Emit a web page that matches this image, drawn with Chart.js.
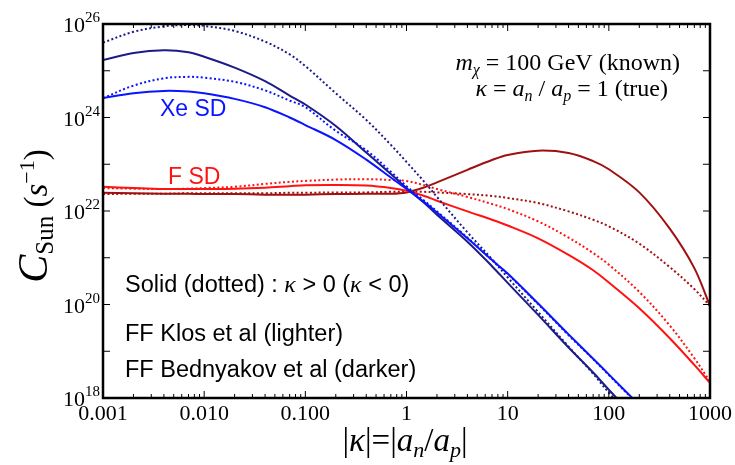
<!DOCTYPE html>
<html>
<head>
<meta charset="utf-8">
<script src="https://cdn.jsdelivr.net/npm/chart.js@4/dist/chart.umd.min.js"></script>
<style>
  body { margin: 0; background: #fff; }
  #wrap { width: 735px; height: 465px; }
</style>
</head>
<body>
<div id="wrap"><canvas id="c" width="735" height="465"></canvas></div>
<script>
// |kappa| sampling points
const kappa = [0.001, 0.002, 0.004, 0.007, 0.01, 0.02, 0.04, 0.07, 0.1, 0.2, 0.4, 0.7, 1, 1.5, 2, 4, 7, 10, 20, 40, 70, 100, 200, 400, 700, 1000];

// Xe SD, Klos FF (lighter)
const xeKlosPos = [2.6e24, 3.3e24, 3.7e24, 3.6e24, 3.3e24, 2.5e24, 1.66e24, 1.0e24, 6.9e23, 3.3e23, 1.26e23, 5.2e22, 2.95e22, 1.55e22, 9.3e21, 2.6e21, 8.9e20, 4.6e20, 1.05e20, 2.3e19, 6.9e18, 3.2e18, 7.1e17, 1.6e17, 4.7e16, 2.2e16];
const xeKlosNeg = [2.6e24, 4.8e24, 6.9e24, 7.4e24, 7.1e24, 5.8e24, 3.8e24, 2.3e24, 1.66e24, 5.2e23, 2.0e23, 6.9e22, 3.4e22, 1.66e22, 9.8e21, 2.7e21, 8.9e20, 4.5e20, 1.02e20, 2.2e19, 6.8e18, 3.1e18, 6.9e17, 1.55e17, 4.6e16, 2.2e16];
// Xe SD, Bednyakov FF (darker)
const xeBedPos = [1.7e25, 2.4e25, 2.75e25, 2.5e25, 2.0e25, 1.17e25, 6.0e24, 2.95e24, 1.9e24, 6.6e23, 1.78e23, 6.2e22, 3.1e22, 1.48e22, 8.3e21, 2.2e21, 6.6e20, 2.9e20, 6.0e19, 1.2e19, 3.5e18, 1.5e18, 3.1e17, 6.3e16, 1.8e16, 8e15];
const xeBedNeg = [4.0e25, 6.8e25, 8.9e25, 9.5e25, 9.1e25, 7.1e25, 4.2e25, 2.24e25, 1.26e25, 3.3e24, 8.9e23, 2.6e23, 1.12e23, 4.2e22, 2.0e22, 3.5e21, 9.3e20, 3.8e20, 6.9e19, 1.26e19, 3.3e18, 1.3e18, 2.6e17, 5.2e16, 1.5e16, 6.3e15];
// F SD, Klos FF (lighter)
const fKlosPos = [3.3e22, 3.1e22, 2.95e22, 2.95e22, 2.95e22, 3.0e22, 3.16e22, 3.4e22, 3.55e22, 3.6e22, 3.5e22, 3.1e22, 2.7e22, 2.1e22, 1.66e22, 9.8e21, 6.5e21, 4.9e21, 2.6e21, 1.15e21, 5.4e20, 2.95e20, 8.3e19, 1.9e19, 5.1e18, 2.1e18];
const fKlosNeg = [3.1e22, 3.0e22, 2.95e22, 3.0e22, 3.1e22, 3.3e22, 3.8e22, 4.2e22, 4.4e22, 4.7e22, 4.8e22, 4.6e22, 4.4e22, 3.55e22, 2.95e22, 2.0e22, 1.41e22, 1.1e22, 6.0e21, 2.7e21, 1.26e21, 7.1e20, 1.86e20, 3.55e19, 7.1e18, 2.24e18];
// F SD, Bednyakov FF (darker)
const fBedPos = [2.45e22, 2.4e22, 2.34e22, 2.34e22, 2.3e22, 2.3e22, 2.24e22, 2.24e22, 2.24e22, 2.3e22, 2.34e22, 2.34e22, 2.5e22, 3.2e22, 4.1e22, 7.6e22, 1.23e23, 1.58e23, 1.95e23, 1.74e23, 1.17e23, 7.8e22, 2.5e22, 4.2e21, 6.0e20, 9.3e19];
const fBedNeg = [2.3e22, 2.34e22, 2.34e22, 2.4e22, 2.4e22, 2.4e22, 2.4e22, 2.45e22, 2.45e22, 2.5e22, 2.5e22, 2.57e22, 2.57e22, 2.57e22, 2.5e22, 2.3e22, 2.1e22, 1.9e22, 1.48e22, 9.8e21, 6.5e21, 4.7e21, 2.0e21, 6.3e20, 2.14e20, 9.3e19];

const xTickValues = [0.001, 0.01, 0.1, 1, 10, 100, 1000];
const xTickLabels = ['0.001', '0.010', '0.100', '1', '10', '100', '1000'];
const yTickValues = [1e18, 1e19, 1e20, 1e21, 1e22, 1e23, 1e24, 1e25, 1e26];
const yLabelValues = [1e18, 1e20, 1e22, 1e24, 1e26];
const yLabelExps = ['18', '20', '22', '24', '26'];

const SERIF = '"Liberation Serif", "Times New Roman", serif';
const SANS = '"Liberation Sans", Arial, sans-serif';
const LIGHT_BLUE = '#0a14ff', DARK_BLUE = '#1c1c88', LIGHT_RED = '#ff1212', DARK_RED = '#a01010';

const pts = arr => kappa.map((k, i) => ({ x: k, y: arr[i] }));
const line = (data, color, dotted) => ({
  data: pts(data), borderColor: color, borderWidth: 2,
  borderDash: dotted ? [2, 2.4] : [], pointRadius: 0, fill: false,
  tension: 0.35
});

function runs(ctx, x, y, parts, align) {
  let w = 0;
  parts.forEach(p => { ctx.font = p.f; w += ctx.measureText(p.t).width; });
  let cx = align === 'center' ? x - w / 2 : align === 'right' ? x - w : x;
  parts.forEach(p => {
    ctx.font = p.f;
    ctx.fillStyle = p.c || '#000';
    ctx.fillText(p.t, cx, y + (p.dy || 0));
    cx += ctx.measureText(p.t).width;
  });
}

const frame = {
  id: 'frame',
  afterDraw(chart) {
    const { ctx, chartArea: a, scales: { x, y } } = chart;
    ctx.save();
    ctx.strokeStyle = '#000';
    ctx.lineWidth = 1;
    ctx.beginPath();
    // x ticks, major + minor, bottom and top
    for (let d = 0; d < xTickValues.length; d++) {
      const base = xTickValues[d];
      for (let m = 1; m <= 9; m++) {
        if (d === xTickValues.length - 1 && m > 1) break;
        const px = x.getPixelForValue(base * m);
        const len = m === 1 ? 7 : 4;
        ctx.moveTo(px, a.bottom); ctx.lineTo(px, a.bottom - len);
        ctx.moveTo(px, a.top); ctx.lineTo(px, a.top + len);
      }
    }
    yTickValues.forEach(v => {
      const py = y.getPixelForValue(v);
      ctx.moveTo(a.left, py); ctx.lineTo(a.left + 7, py);
      ctx.moveTo(a.right, py); ctx.lineTo(a.right - 7, py);
    });
    ctx.stroke();
    ctx.lineWidth = 2.5;
    ctx.strokeRect(a.left, a.top, a.right - a.left, a.bottom - a.top);

    ctx.textBaseline = 'alphabetic';
    // x tick labels
    ctx.font = '22px ' + SERIF;
    ctx.fillStyle = '#000';
    ctx.textAlign = 'center';
    xTickValues.forEach((v, i) => {
      ctx.fillText(xTickLabels[i], x.getPixelForValue(v), a.bottom + 22);
    });
    ctx.textAlign = 'left';
    // y tick labels 10^n
    yLabelValues.forEach((v, i) => {
      const py = y.getPixelForValue(v);
      runs(ctx, a.left - 3, py + 8, [
        { t: '10', f: '22px ' + SERIF },
        { t: yLabelExps[i], f: '15px ' + SERIF, dy: -10 }
      ], 'right');
    });

    // x title
    const it33 = 'italic 33px ' + SERIF, rg33 = '33px ' + SERIF, it22 = 'italic 22px ' + SERIF;
    runs(ctx, 405, 451, [
      { t: '|', f: rg33 }, { t: 'κ', f: it33 }, { t: '|=|', f: rg33 },
      { t: 'a', f: it33 }, { t: 'n', f: it22, dy: 6 }, { t: '/', f: rg33 },
      { t: 'a', f: it33 }, { t: 'p', f: it22, dy: 6 }, { t: '|', f: rg33 }
    ], 'center');

    // y title, rotated
    ctx.save();
    ctx.translate(47, 216);
    ctx.rotate(-Math.PI / 2);
    runs(ctx, 0, 0, [
      { t: 'C', f: 'italic 42px ' + SERIF },
      { t: 'Sun', f: '25px ' + SERIF, dy: 6 },
      { t: ' (', f: '33px ' + SERIF },
      { t: 's', f: 'italic 33px ' + SERIF },
      { t: '−1', f: '22px ' + SERIF, dy: -13 },
      { t: ')', f: '33px ' + SERIF }
    ], 'center');
    ctx.restore();

    // annotations
    const it24 = 'italic 24px ' + SERIF, rg24 = '24px ' + SERIF, it16 = 'italic 16px ' + SERIF;
    runs(ctx, 680, 70, [
      { t: 'm', f: it24 }, { t: 'χ', f: it16, dy: 5 }, { t: ' = 100 GeV (known)', f: rg24 }
    ], 'right');
    runs(ctx, 668, 96, [
      { t: 'κ', f: it24 }, { t: ' = ', f: rg24 }, { t: 'a', f: it24 }, { t: 'n', f: it16, dy: 5 },
      { t: ' / ', f: rg24 }, { t: 'a', f: it24 }, { t: 'p', f: it16, dy: 5 }, { t: ' = 1 (true)', f: rg24 }
    ], 'right');

    runs(ctx, 160, 116, [{ t: 'Xe SD', f: '23px ' + SANS, c: LIGHT_BLUE }], 'left');
    runs(ctx, 168, 184, [{ t: 'F SD', f: '23px ' + SANS, c: LIGHT_RED }], 'left');

    const s24 = '23.5px ' + SANS, k24 = 'italic 24px ' + SERIF;
    runs(ctx, 125, 292, [
      { t: 'Solid (dotted) : ', f: s24 }, { t: 'κ', f: k24 }, { t: ' > 0 (', f: s24 },
      { t: 'κ', f: k24 }, { t: ' < 0)', f: s24 }
    ], 'left');
    runs(ctx, 125, 341, [{ t: 'FF Klos et al (lighter)', f: s24 }], 'left');
    runs(ctx, 125, 377, [{ t: 'FF Bednyakov et al (darker)', f: s24 }], 'left');
    ctx.restore();
  }
};

new Chart(document.getElementById('c'), {
  type: 'line',
  data: {
    datasets: [
      line(xeKlosPos, LIGHT_BLUE, false),
      line(xeKlosNeg, LIGHT_BLUE, true),
      line(xeBedPos, DARK_BLUE, false),
      line(xeBedNeg, DARK_BLUE, true),
      line(fKlosPos, LIGHT_RED, false),
      line(fKlosNeg, LIGHT_RED, true),
      line(fBedPos, DARK_RED, false),
      line(fBedNeg, DARK_RED, true)
    ]
  },
  options: {
    responsive: false,
    animation: false,
    layout: { padding: { left: 103, right: 25, top: 24, bottom: 67 } },
    plugins: { legend: { display: false }, tooltip: { enabled: false } },
    scales: {
      x: { type: 'logarithmic', min: 0.001, max: 1000, display: false },
      y: { type: 'logarithmic', min: 1e18, max: 1e26, display: false }
    }
  },
  plugins: [frame]
});
</script>
</body>
</html>
